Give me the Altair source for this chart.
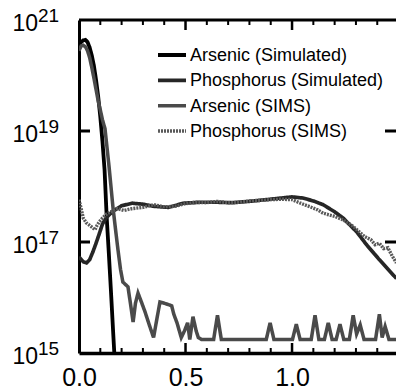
import altair as alt
import pandas as pd

# ---------------- data ----------------
series_names = ["Arsenic (Simulated)", "Phosphorus (Simulated)", "\u00a0Arsenic (SIMS)", "Phosphorus (SIMS)"]

as_sim_x = [0.0, 0.01, 0.02, 0.03, 0.04, 0.05, 0.06, 0.07, 0.08, 0.09, 0.10, 0.11, 0.12, 0.13, 0.14, 0.15, 0.16, 0.17]
as_sim_y = [3.5e20, 4.0e20, 4.3e20, 4.4e20, 4.0e20, 3.2e20, 2.3e20, 1.5e20, 8.3e19, 4.2e19, 1.8e19, 6.6e18, 2.0e18, 2.8e17, 6.3e16, 1.3e16, 2.5e15, 5.0e14]

p_sim_x = [0.0, 0.02, 0.035, 0.05, 0.065, 0.08, 0.095, 0.11, 0.13, 0.16, 0.20, 0.25, 0.30, 0.35, 0.42, 0.49, 0.57, 0.65, 0.72, 0.80, 0.88, 0.95, 1.0, 1.05, 1.10, 1.146, 1.20, 1.24, 1.305, 1.35, 1.41, 1.49]
p_sim_y = [5.4e16, 4.4e16, 4.2e16, 4.8e16, 6.6e16, 9.5e16, 1.4e17, 2.1e17, 2.8e17, 3.6e17, 4.5e17, 5.0e17, 4.8e17, 4.4e17, 4.2e17, 5.0e17, 5.2e17, 5.2e17, 5.1e17, 5.4e17, 5.8e17, 6.2e17, 6.5e17, 6.2e17, 5.5e17, 4.7e17, 3.5e17, 2.7e17, 1.5e17, 8.9e16, 4.8e16, 2.2e16]

as_sims_x = [0.0, 0.01, 0.02, 0.03, 0.04, 0.05, 0.06, 0.07, 0.08, 0.09, 0.10, 0.11, 0.122, 0.14, 0.16, 0.175, 0.183, 0.195, 0.206, 0.23, 0.245, 0.254, 0.265, 0.277, 0.29, 0.31, 0.33, 0.35, 0.365, 0.38, 0.40, 0.435, 0.445, 0.46, 0.48, 0.495, 0.51, 0.52, 0.535, 0.55, 0.56, 0.575,
             0.632, 0.65, 0.668, 0.879, 0.897, 0.915, 1.002, 1.02, 1.038, 1.09, 1.108, 1.126, 1.152, 1.17, 1.188, 1.207, 1.225, 1.243, 1.269, 1.287, 1.303, 1.32, 1.338, 1.392, 1.41, 1.423, 1.437, 1.455, 1.49]
as_sims_y = [2.8e20, 3.4e20, 3.5e20, 3.3e20, 2.8e20, 2.1e20, 1.4e20, 9.0e19, 5.6e19, 3.5e19, 2.4e19, 1.6e19, 1.1e19, 2.5e18, 4.0e17, 1.3e17, 7.2e16, 3.2e16, 1.9e16, 1.55e16, 6.3e15, 3.6e15, 7.9e15, 1.2e16, 8.9e15, 5.5e15, 3.2e15, 1.9e15, 4.0e15, 8.3e15, 7.9e15, 7.1e15, 5.0e15, 3.5e15, 1.9e15, 2.5e15, 3.5e15, 1.75e15, 4.5e15, 2.5e15, 1.9e15, 1.75e15,
             1.75e15, 4.8e15, 1.75e15, 1.75e15, 3.5e15, 1.75e15, 1.75e15, 3.3e15, 1.75e15, 1.75e15, 4.8e15, 1.75e15, 1.75e15, 3.5e15, 1.75e15, 1.75e15, 3.3e15, 1.75e15, 1.75e15, 4.8e15, 2.2e15, 3.2e15, 1.75e15, 1.75e15, 5.0e15, 1.9e15, 3.0e15, 1.75e15, 1.75e15]

p_sims_x = [0.0, 0.01, 0.02, 0.035, 0.05, 0.065, 0.075, 0.085, 0.095, 0.11, 0.13, 0.15, 0.18, 0.21, 0.25, 0.30, 0.35, 0.40, 0.45, 0.50, 0.55, 0.60, 0.65, 0.70, 0.75, 0.80, 0.85, 0.90, 0.95, 1.0, 1.04, 1.085, 1.12, 1.146, 1.20, 1.24, 1.28, 1.305, 1.34, 1.37, 1.39, 1.41, 1.43, 1.45, 1.47, 1.49]
p_sims_y = [5.8e17, 4.0e17, 2.7e17, 2.2e17, 2.0e17, 1.8e17, 1.66e17, 2.0e17, 2.3e17, 2.7e17, 3.2e17, 3.5e17, 4.0e17, 3.7e17, 4.0e17, 4.2e17, 4.7e17, 4.3e17, 4.4e17, 4.9e17, 5.2e17, 5.1e17, 5.4e17, 5.1e17, 5.2e17, 5.5e17, 5.6e17, 5.8e17, 5.9e17, 5.8e17, 5.0e17, 4.3e17, 3.8e17, 3.3e17, 2.9e17, 2.5e17, 2.0e17, 1.66e17, 1.26e17, 1.1e17, 8.9e16, 9.5e16, 7.6e16, 7.9e16, 5.6e16, 4.2e16]

x_major_ticks = [0.5, 1.0]
x_minor_ticks = [0.1, 0.2, 0.3, 0.4, 0.6, 0.7, 0.8, 0.9, 1.1, 1.2, 1.3, 1.4]
y_inner_ticks = [1e17, 1e19]
x_label_values = [0.0, 0.5, 1.0]
y_label_exponents = [15, 17, 19, 21]

# ---------------- tables ----------------
frames = []
for name, xs, ys in [(series_names[0], as_sim_x, as_sim_y),
                     (series_names[1], p_sim_x, p_sim_y),
                     (series_names[2], as_sims_x, as_sims_y),
                     (series_names[3], p_sims_x, p_sims_y)]:
    frames.append(pd.DataFrame({"depth": xs, "conc": ys, "series": name, "order": range(len(xs))}))
lines_df = pd.concat(frames, ignore_index=True)

ylab_df = pd.DataFrame({"val": [10.0 ** e for e in y_label_exponents],
                        "base": ["10"] * len(y_label_exponents),
                        "exp": [str(e) for e in y_label_exponents]})
leg_df = pd.DataFrame({"series": series_names})

W, H = 317, 333
FONT = "Liberation Sans"

xscale = alt.Scale(domain=[0, 1.488], nice=False, zero=False)
yscale = alt.Scale(type="log", domain=[1e15, 1e21], nice=False)

colors = ["#000000", "#262626", "#4a4a4a", "#5a5a5a"]
widths = [3.8, 3.4, 1.1, 1.2]
dashes = [[1, 0], [1, 0], [1, 0], [2, 1]]

color_enc = alt.Color("series:N", scale=alt.Scale(domain=series_names, range=colors), legend=None)
width_enc = alt.StrokeWidth("series:N", scale=alt.Scale(domain=series_names, range=widths), legend=None)
dash_enc = alt.StrokeDash("series:N", scale=alt.Scale(domain=series_names, range=dashes), legend=None)

lines = alt.Chart(lines_df).mark_line(clip=True).encode(
    x=alt.X("depth:Q", scale=xscale,
            axis=alt.Axis(values=x_label_values, format=".1f", ticks=False, tickSize=0, grid=False,
                          domainWidth=3.5, domainColor="black", labelFontSize=25, labelFont=FONT,
                          labelColor="black", labelBaseline="alphabetic", labelPadding=32,
                          title=None, labelFlush=False)),
    y=alt.Y("conc:Q", scale=yscale,
            axis=alt.Axis(labels=False, ticks=False, tickSize=0, grid=False, domainWidth=3,
                          domainColor="black", title=None)),
    color=color_enc, strokeWidth=width_enc, strokeDash=dash_enc,
    order="order:Q",
)

minor_ticks = alt.Chart(pd.DataFrame({"t": x_minor_ticks})).mark_rule(color="black", strokeWidth=2)
bottom_minor = minor_ticks.encode(x=alt.X("t:Q", scale=xscale), y=alt.value(H), y2=alt.value(H - 5))
top_minor = minor_ticks.encode(x=alt.X("t:Q", scale=xscale), y=alt.value(0), y2=alt.value(5))
major_ticks = alt.Chart(pd.DataFrame({"t": x_major_ticks})).mark_rule(color="black", strokeWidth=2.5)
bottom_major = major_ticks.encode(x=alt.X("t:Q", scale=xscale), y=alt.value(H), y2=alt.value(H - 10))
top_major = major_ticks.encode(x=alt.X("t:Q", scale=xscale), y=alt.value(0), y2=alt.value(10))

yt = alt.Chart(pd.DataFrame({"v": y_inner_ticks})).mark_rule(color="black", strokeWidth=3)
left_ticks = yt.encode(y=alt.Y("v:Q", scale=yscale), x=alt.value(0), x2=alt.value(11))
right_ticks = yt.encode(y=alt.Y("v:Q", scale=yscale), x=alt.value(W - 11), x2=alt.value(W))

top_border = alt.Chart(pd.DataFrame({"a": [0]})).mark_rule(color="black", strokeWidth=3).encode(
    x=alt.value(0), x2=alt.value(W), y=alt.value(0))

base_lab = alt.Chart(ylab_df).mark_text(align="right", baseline="alphabetic", dy=11, fontSize=23,
                                        font=FONT, color="black").encode(
    y=alt.Y("val:Q", scale=yscale), x=alt.value(-41), text="base:N")
exp_lab = alt.Chart(ylab_df).mark_text(align="left", baseline="alphabetic", dy=2, fontSize=19,
                                       font=FONT, color="black").encode(
    y=alt.Y("val:Q", scale=yscale), x=alt.value(-41), text="exp:N")

main = alt.layer(lines, bottom_minor, top_minor, bottom_major, top_major, left_ticks, right_ticks,
                 top_border, base_lab, exp_lab)

# ---- hand-built legend (rows on their own point scale) ----
leg_y = alt.Y("series:N", scale=alt.Scale(type="point", domain=series_names, range=[35, 111], padding=0),
              axis=None)
leg_lines = alt.Chart(leg_df).mark_rule().encode(
    y=leg_y, x=alt.value(79), x2=alt.value(107),
    color=color_enc, strokeWidth=width_enc, strokeDash=dash_enc)
leg_text = alt.Chart(leg_df).mark_text(align="left", baseline="middle", fontSize=18, font=FONT,
                                       color="black", dy=1).encode(
    y=leg_y, x=alt.value(111), text="series:N")
legend = alt.layer(leg_lines, leg_text)

chart = alt.layer(main, legend).resolve_scale(y="independent").properties(
    width=W, height=H,
    autosize=alt.AutoSizeParams(type="none"),
    padding={"left": 79, "top": 20, "right": 0, "bottom": 38},
    background="white",
).configure_view(stroke=None)

chart.save("out.html", embed_options={"renderer": "svg", "actions": False})
